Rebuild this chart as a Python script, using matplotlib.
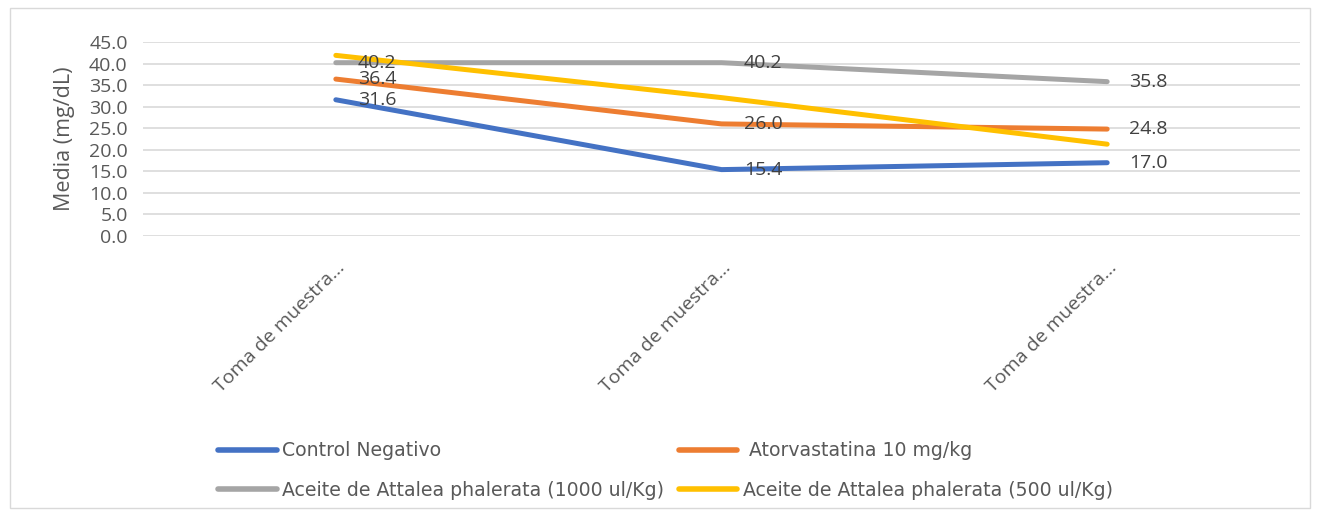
import matplotlib
matplotlib.use("Agg")
import matplotlib.pyplot as plt
from matplotlib.patches import Rectangle

categories = ["Toma de muestra...", "Toma de muestra...", "Toma de muestra..."]
series_names = ["Control Negativo", " Atorvastatina 10 mg/kg",
                "Aceite de Attalea phalerata (1000 ul/Kg)",
                "Aceite de Attalea phalerata (500 ul/Kg)"]
control = [31.6, 15.4, 17.0]
atorva = [36.4, 26.0, 24.8]
aceite1000 = [40.2, 40.2, 35.8]
aceite500 = [41.9, 32.1, 21.3]
yticks = [0, 5, 10, 15, 20, 25, 30, 35, 40, 45]

colors = ["#4472C4", "#ED7D31", "#A5A5A5", "#FFC000"]
values = [control, atorva, aceite1000, aceite500]
show_labels = [True, True, True, False]

plt.rcParams['font.family'] = ['Open Sans', 'DejaVu Sans']

fig = plt.figure(figsize=(13.2, 5.12), dpi=100)
fig.patches.append(Rectangle((10/1320, 4/512), 1300/1320, 500/512, transform=fig.transFigure,
                             fill=False, edgecolor="#d9d9d9", linewidth=1.0))
ax = fig.add_axes([143/1320, 1 - 236/512, (1300 - 143)/1320, (236 - 42)/512])

x = list(range(len(categories)))
handles = []
for name, vals, c, lab in zip(series_names, values, colors, show_labels):
    h, = ax.plot(x, vals, color=c, linewidth=3.6, solid_capstyle='round', label=name, zorder=3)
    handles.append(h)
    if lab:
        for xi, v in zip(x, vals):
            ax.annotate(f"{v:.1f}", (xi, v), xytext=(16, 0), textcoords='offset points',
                        ha='left', va='center', fontsize=14, color="#404040", zorder=4)

ax.set_xlim(-0.5, 2.5)
ax.set_ylim(0, 45)
ax.set_yticks(yticks)
ax.set_yticklabels([f"{t:.1f}" for t in yticks], fontsize=14, color="#595959")
ax.set_xticks(x)
ax.set_xticklabels(categories, rotation=45, ha='right', rotation_mode='anchor',
                   fontsize=14, color="#595959")
ax.tick_params(length=0)
ax.tick_params(axis='y', pad=11)
ax.tick_params(axis='x', pad=16)
ax.grid(axis='y', color="#d9d9d9", linewidth=1.2, zorder=0)
for s in ax.spines.values():
    s.set_visible(False)
ax.set_ylabel("Media (mg/dL)", fontsize=15.5, color="#595959", labelpad=10)

order = [0, 2, 1, 3]
leg = fig.legend([handles[i] for i in order], [series_names[i] for i in order],
                 ncol=2, loc='upper left', bbox_to_anchor=(205/1320, 1 - 428/512),
                 frameon=False, handlelength=3.1, handletextpad=0.3,
                 columnspacing=0.75, labelspacing=1.1, borderpad=0.2,
                 prop={'family': ['DejaVu Sans'], 'size': 13.6})
for t in leg.get_texts():
    t.set_color("#595959")
for lh in leg.legend_handles:
    lh.set_linewidth(4)

fig.savefig("out.png", dpi=100)
